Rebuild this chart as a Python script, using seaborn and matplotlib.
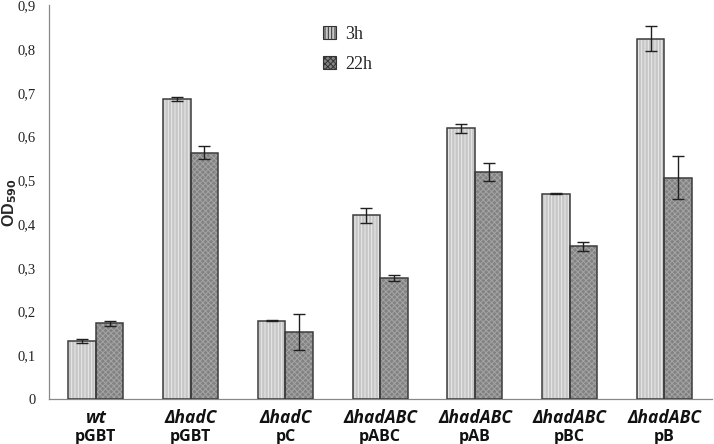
import numpy as np
import pandas as pd
import seaborn as sns
import matplotlib.pyplot as plt
from matplotlib.patches import Rectangle, Patch
from matplotlib.ticker import FuncFormatter

sns.set_theme(style="white")
plt.rcParams["hatch.linewidth"] = 0.7

strains = ["wt", "ΔhadC", "ΔhadC", "ΔhadABC", "ΔhadABC", "ΔhadABC", "ΔhadABC"]
plasmids = ["pGBT", "pGBT", "pC", "pABC", "pAB", "pBC", "pB"]
od_3h = [0.133, 0.686, 0.179, 0.420, 0.619, 0.469, 0.824]
err_3h = [0.005, 0.005, 0.001, 0.017, 0.010, 0.001, 0.029]
od_22h = [0.173, 0.563, 0.153, 0.277, 0.519, 0.349, 0.506]
err_22h = [0.006, 0.015, 0.041, 0.006, 0.020, 0.010, 0.049]
times = ["3h", "22h"]

df = pd.DataFrame({
    "time": ["3h"] * 7 + ["22h"] * 7,
    "od": od_3h + od_22h,
    "err": err_3h + err_22h,
})
df["gid"] = list(range(7)) * 2

fig, ax = plt.subplots(figsize=(7.14, 4.44), dpi=100)
fig.subplots_adjust(left=0.068, right=0.997, top=0.988, bottom=0.101)

face = {"3h": "#c6c6c6", "22h": "#828282"}
hcol = {"3h": "#ebebeb", "22h": "#a4a4a4"}
hatch = {"3h": "|||||", "22h": "xxxxxx"}

sns.barplot(data=df, x="gid", y="od", hue="time", hue_order=times,
            palette=face, errorbar=None, width=0.58, gap=0, ax=ax, legend=False)

for container, t in zip(ax.containers, times):
    sub = df[df["time"] == t]
    xs, ys = [], []
    for bar in container:
        bar.set_hatch(hatch[t])
        bar.set_edgecolor(hcol[t])
        bar.set_linewidth(0)
        ax.add_patch(Rectangle(bar.get_xy(), bar.get_width(), bar.get_height(),
                               fill=False, edgecolor="#3c3c3c", lw=1.1, zorder=3))
        xs.append(bar.get_x() + bar.get_width() / 2)
        ys.append(bar.get_height())
    ax.errorbar(xs, ys, yerr=sub["err"].values, fmt="none", ecolor="#202020",
                elinewidth=1.0, capsize=4, capthick=1.0, zorder=4)

ax.set_ylim(0, 0.9)
ax.set_yticks(np.arange(0, 0.91, 0.1))
ax.yaxis.set_major_formatter(FuncFormatter(lambda v, p: "0" if abs(v) < 1e-9 else f"{v:.1f}".replace(".", ",")))
ax.set_xlim(-0.5, 6.5)
ax.set_xticks(range(7))
ax.set_xticklabels([])
ax.set_xticks(np.arange(-0.5, 7, 1), minor=True)
ax.tick_params(axis="x", which="major", length=0, pad=2)
ax.tick_params(axis="x", which="minor", direction="out", length=5, color="#888888", width=0.8)
ax.tick_params(axis="y", direction="out", length=5, color="#888888", width=0.8, pad=4)
for lab in ax.get_yticklabels():
    lab.set_fontfamily("Liberation Serif")
    lab.set_fontsize(10.5)
    lab.set_color("#222222")

for i, (s, p) in enumerate(zip(strains, plasmids)):
    ax.text(i, -0.022, s, ha="center", va="top", fontsize=12.5, fontweight="bold",
            fontstyle="italic", family="Open Sans", color="#111111")
    ax.text(i, -0.068, p, ha="center", va="top", fontsize=11.5, fontweight="bold",
            family="Open Sans", color="#111111")

ax.set_ylabel("OD$_\\mathbf{590}$", fontsize=11.5, fontweight="bold", family="Liberation Sans")
ax.yaxis.set_label_coords(-0.045, 0.5)
ax.set_xlabel("")

for side in ["top", "right"]:
    ax.spines[side].set_visible(False)
for side in ["left", "bottom"]:
    ax.spines[side].set_color("#888888")
    ax.spines[side].set_linewidth(0.9)

handles = [Patch(facecolor=face[t], edgecolor="#333333", hatch=hatch[t], lw=0.8) for t in times]
leg = ax.legend(handles, times, loc="upper left", bbox_to_anchor=(0.39, 0.99), frameon=False,
                handlelength=0.7, handleheight=0.7, handletextpad=0.5, labelspacing=0.75,
                prop={"family": "Liberation Serif", "size": 13})

fig.savefig("out.png", dpi=100)
